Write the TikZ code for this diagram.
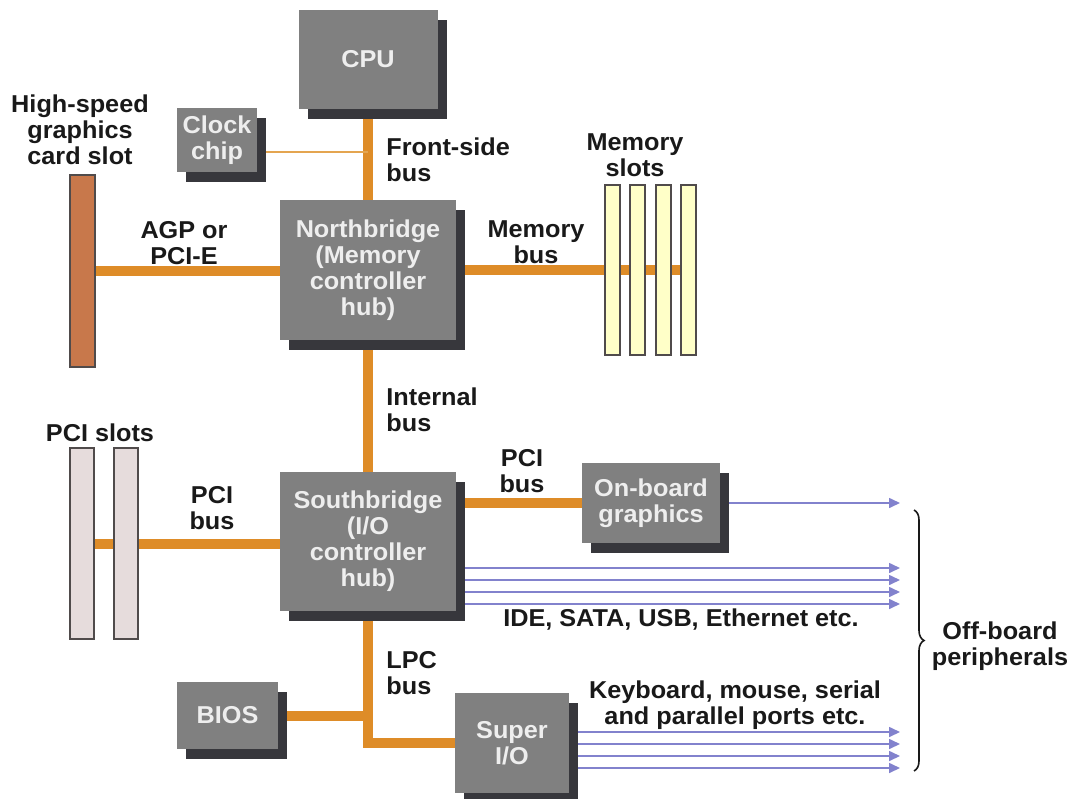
\documentclass[tikz,border=0pt]{standalone}
\usepackage{fontspec}
\setmainfont[FakeStretch=1.035]{Liberation Sans}
\usetikzlibrary{shadows}
\usetikzlibrary{backgrounds}
\usetikzlibrary{arrows.meta}
\usetikzlibrary{decorations.pathreplacing}

\definecolor{chipgray}{RGB}{128,128,128}
\definecolor{chipshadow}{RGB}{55,55,60}
\definecolor{chiptext}{RGB}{238,238,238}
\definecolor{lbltext}{RGB}{25,25,25}
\definecolor{busorange}{RGB}{222,140,40}
\definecolor{clockline}{RGB}{228,165,80}
\definecolor{slotedge}{RGB}{80,75,75}
\definecolor{gslotfill}{RGB}{200,120,75}
\definecolor{memfill}{RGB}{255,255,200}
\definecolor{pcifill}{RGB}{230,220,220}
\definecolor{periphblue}{RGB}{130,130,205}

\begin{document}
\begin{tikzpicture}[x=0.5pt, y=-0.5pt,
        every node/.style={font=\fontsize{12.2}{13}\selectfont\bfseries, inner sep=0pt},
        chip/.style={fill=chipgray, text=chiptext, align=center,
            general shadow={fill=chipshadow, shadow xshift=4.5pt, shadow yshift=-5pt}},
        lbl/.style={text=lbltext, align=center},
        slot/.style={draw=slotedge, line width=0.8pt},
        bus/.style={draw=busorange, line width=5pt},
        periph/.style={draw=periphblue, line width=0.8pt, -{Triangle[length=5.5pt, width=5pt]}},
        curly/.style={draw=lbltext, line width=0.8pt, decorate, decoration={brace, amplitude=5pt}}]
    \useasboundingbox (0,0) rectangle (1071,798);

    % Chips
    \node[chip, minimum width=69.5pt, minimum height=49.5pt] (cpu) at (368,59.5) {CPU};
    \node[chip, minimum width=40pt, minimum height=32pt] (clock) at (217,140) {Clock\\chip};
    \node[chip, minimum width=88pt, minimum height=70pt] (nb) at (368,270) {Northbridge\\(Memory\\controller\\hub)};
    \node[chip, minimum width=88pt, minimum height=69.5pt] (sb) at (368,541.5) {Southbridge\\(I/O\\controller\\hub)};
    \node[chip, minimum width=69pt, minimum height=40pt] (obg) at (651,503) {On-board\\graphics};
    \node[chip, minimum width=50.5pt, minimum height=33.5pt] (bios) at (227.5,715.5) {BIOS};
    \node[chip, minimum width=57pt, minimum height=50pt] (sio) at (512,743) {Super\\I/O};

    % Slots
    \node[slot, fill=gslotfill, minimum width=12.5pt, minimum height=96pt] (gslot) at (82.5,271) {};
    \foreach \x [count=\i] in {612.5,637.5,663.5,688.5}
        \node[slot, fill=memfill, minimum width=7.5pt, minimum height=85pt] (mem\i) at (\x,270) {};
    \foreach \x [count=\i] in {82,126}
        \node[slot, fill=pcifill, minimum width=12pt, minimum height=95.5pt] (pci\i) at (\x,543.5) {};

    % Labels
    \node[lbl] (hslbl) at (80,130) {High-speed\\graphics\\card slot};
    \node[lbl] (memslbl) at (635,155) {Memory\\slots};
    \node[lbl] (agplbl) at (184,243) {AGP or\\PCI-E};
    \node[lbl] (membuslbl) at (536,242) {Memory\\bus};
    \node[lbl, anchor=west, align=left] (fsblbl) at (386,160) {Front-side\\bus};
    \node[lbl, anchor=west, align=left] (intlbl) at (386,410) {Internal\\bus};
    \node[lbl] (pcislbl) at (100,433) {PCI slots};
    \node[lbl] (pcilbl) at (212,508) {PCI\\bus};
    \node[lbl] (pci2lbl) at (522,471) {PCI\\bus};
    \node[lbl] (idelbl) at (681,620) {IDE, SATA, USB, Ethernet etc.};
    \node[lbl, anchor=west, align=left] (lpclbl) at (386,673) {LPC\\bus};
    \node[lbl] (kbdlbl) at (735,705) {Keyboard, mouse, serial\\and parallel ports etc.};
    \node[lbl] (offlbl) at (1000,646) {Off-board\\peripherals};

    % Brace
    \coordinate (tips) at (900,0);
    \coordinate (btop) at (914,510);
    \coordinate (bbot) at (914,771);
    \draw[curly] (btop) -- (bbot);

    \begin{scope}[on background layer]
        % Buses
        \draw[bus] (cpu) -- (nb);
        \draw[bus] (nb) -- (sb);
        \draw[bus] (gslot) -- (gslot -| nb);
        \draw[bus] (nb) -- (nb -| mem4);
        \draw[bus] (pci1) -- (pci1 -| sb);
        \draw[bus] (obg) -- (obg -| sb);
        \draw[bus] (sb) |- (sio);
        \draw[bus] (bios) -- (bios -| sb);
        \draw[draw=clockline, line width=1pt] ([yshift=-6pt]clock.east) -- ([yshift=-6pt]clock.east -| cpu);

        % Peripheral lines
        \draw[periph] (obg) -- (obg -| tips);
        \foreach \y in {568,580,592,604}
            \draw[periph] (sb |- 0,\y) -- (tips |- 0,\y);
        \foreach \y in {732,744,756,768}
            \draw[periph] (sio |- 0,\y) -- (tips |- 0,\y);
    \end{scope}
\end{tikzpicture}
\end{document}
